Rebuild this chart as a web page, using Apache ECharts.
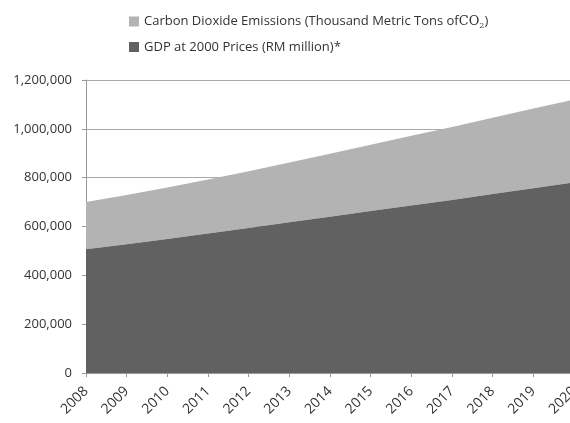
<!DOCTYPE html>
<html>
<head>
<meta charset="utf-8">
<script src="https://cdn.jsdelivr.net/npm/echarts@6/dist/echarts.min.js"></script>
<style>
html,body{margin:0;padding:0;background:#fff;overflow:hidden;}
#chart{width:570px;height:423px;}
</style>
</head>
<body>
<div id="chart"></div>
<script>
const years = ['2008','2009','2010','2011','2012','2013','2014','2015','2016','2017','2018','2019','2020'];
const gdp = [507000, 527000, 549000, 571000, 594000, 617000, 640000, 663000, 686000, 709000, 733000, 757000, 780000];
const co2 = [193000, 202000, 211000, 221000, 232000, 245000, 258000, 272000, 286000, 299000, 312000, 326000, 340000];
const yTicks = [0, 200000, 400000, 600000, 800000, 1000000, 1200000];

const co2Name = 'Carbon Dioxide Emissions (Thousand Metric Tons of CO2)';
const gdpName = 'GDP at 2000 Prices (RM million)*';
const font = '"Open Sans", "Liberation Sans", sans-serif';

const chart = echarts.init(document.getElementById('chart'));
chart.setOption({
  animation: false,
  textStyle: { fontFamily: font },
  legend: {
    orient: 'vertical',
    left: 124,
    top: 10,
    itemWidth: 10,
    itemHeight: 10,
    itemGap: 11,
    icon: 'rect',
    data: [co2Name, gdpName],
    textStyle: {
      fontFamily: font, fontSize: 13, color: '#333',
      rich: {
        a: { fontFamily: font, fontSize: 13, color: '#333' },
        b: { fontFamily: '"DejaVu Serif", "Liberation Serif", serif', fontSize: 13, color: '#333' },
        c: { fontFamily: '"DejaVu Serif", "Liberation Serif", serif', fontSize: 8, color: '#333', padding: [8, 0, 0, 0] }
      }
    },
    formatter: function (name) {
      if (name === co2Name) {
        return '{a|Carbon Dioxide Emissions (Thousand Metric Tons of}{b|CO}{c|2}{a|)}';
      }
      return '{a|' + name + '}';
    }
  },
  grid: { left: 86, top: 80, width: 488, height: 293, containLabel: false, outerBoundsMode: 'none' },
  xAxis: {
    type: 'category',
    data: years,
    boundaryGap: false,
    axisLine: { show: true, lineStyle: { color: '#999' } },
    axisTick: { show: true, length: 4, lineStyle: { color: '#999' } },
    axisLabel: { rotate: 45, fontSize: 14, color: '#333', margin: 16, fontFamily: font, hideOverlap: false }
  },
  yAxis: {
    type: 'value',
    min: yTicks[0],
    max: yTicks[yTicks.length - 1],
    interval: 200000,
    axisLine: { show: true, lineStyle: { color: '#999' } },
    axisTick: { show: true, length: 4, lineStyle: { color: '#999' } },
    splitLine: { show: true, lineStyle: { color: '#a8a8a8', width: 1 } },
    axisLabel: {
      fontSize: 13, color: '#333', margin: 14, fontFamily: font,
      formatter: function (v) { return v.toLocaleString('en-US'); }
    }
  },
  series: [
    {
      name: gdpName,
      type: 'line',
      stack: 'total',
      data: gdp,
      symbol: 'none',
      lineStyle: { width: 0, color: '#616161' },
      itemStyle: { color: '#616161' },
      areaStyle: { color: '#616161', opacity: 1 },
      z: 3
    },
    {
      name: co2Name,
      type: 'line',
      stack: 'total',
      data: co2,
      symbol: 'none',
      lineStyle: { width: 0, color: '#b3b3b3' },
      itemStyle: { color: '#b3b3b3' },
      areaStyle: { color: '#b3b3b3', opacity: 1 },
      z: 2
    }
  ]
});
</script>
</body>
</html>
